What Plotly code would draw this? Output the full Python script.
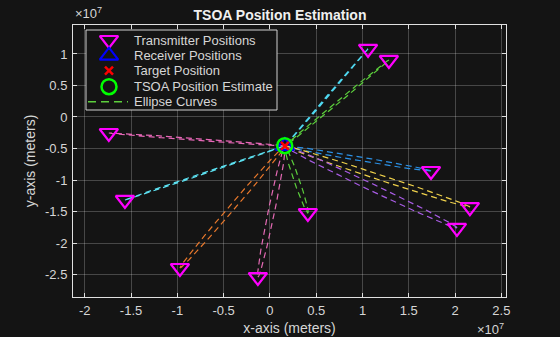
import numpy as np
import plotly.graph_objects as go

# ---- Data (units of meters) ----
tx_x = [1.06e7, 1.285e7, -1.74e7, -1.566e7, -0.972e7, -0.13e7, 0.41e7, 1.74e7, 2.16e7, 2.02e7]
tx_y = [1.08e7, 0.905e7, -0.254e7, -1.317e7, -2.397e7, -2.54e7, -1.524e7, -0.857e7, -1.43e7, -1.76e7]
rx_x = [0.162e7]
rx_y = [-0.46e7]
target_x = [0.162e7]
target_y = [-0.46e7]
est_x = [0.160e7]
est_y = [-0.455e7]
ellipse_colors = ["#4fd8f0", "#5ccf3c", "#e868b8", "#5ce0f0", "#e8782c", "#e46ab4",
                  "#5ccf3c", "#2c90e4", "#f0d24c", "#a85ce4"]
ellipse_minor = [0.008e7, 0.015e7, 0.015e7, 0.01e7, 0.035e7, 0.035e7, 0.03e7, 0.03e7, 0.04e7, 0.05e7]
legend_labels = ["Transmitter Positions", "Receiver Positions", "Target Position",
                 "TSOA Position Estimate", "Ellipse Curves"]

FONT = "Liberation Sans, Arial, sans-serif"
TXT = "#d6d6d6"
TX_COL, RX_COL, TG_COL, EST_COL, ELL_COL = "#ff00ff", "#0000ff", "#ff0000", "#00ff00", "#5ccf3c"

fig = go.Figure()

# Ellipses with foci at each transmitter and the receiver
t = np.linspace(0, 2 * np.pi, 240)
for i in range(len(tx_x)):
    fx1, fy1 = tx_x[i], tx_y[i]
    fx2, fy2 = rx_x[0], rx_y[0]
    cx, cy = (fx1 + fx2) / 2, (fy1 + fy2) / 2
    c = np.hypot(fx1 - fx2, fy1 - fy2) / 2
    b = ellipse_minor[i]
    a = np.sqrt(c ** 2 + b ** 2)
    ang = np.arctan2(fy1 - fy2, fx1 - fx2)
    ex = cx + a * np.cos(t) * np.cos(ang) - b * np.sin(t) * np.sin(ang)
    ey = cy + a * np.cos(t) * np.sin(ang) + b * np.sin(t) * np.cos(ang)
    fig.add_trace(go.Scatter(x=ex, y=ey, mode="lines",
                             line=dict(color=ellipse_colors[i], width=1.2, dash="6px,4px"),
                             showlegend=False, hoverinfo="skip"))

fig.add_trace(go.Scatter(x=tx_x, y=tx_y, mode="markers", name=legend_labels[0],
                         marker=dict(symbol="triangle-down-open", size=16, color=TX_COL,
                                     line=dict(width=2.2, color=TX_COL))))
fig.add_trace(go.Scatter(x=rx_x, y=rx_y, mode="markers", name=legend_labels[1],
                         marker=dict(symbol="triangle-up-open", size=16, color=RX_COL,
                                     line=dict(width=2.2, color=RX_COL))))
fig.add_trace(go.Scatter(x=target_x, y=target_y, mode="markers", name=legend_labels[2],
                         marker=dict(symbol="x-thin-open", size=8, color=TG_COL,
                                     line=dict(width=2.5, color=TG_COL))))
fig.add_trace(go.Scatter(x=est_x, y=est_y, mode="markers", name=legend_labels[3],
                         marker=dict(symbol="circle-open", size=15, color=EST_COL,
                                     line=dict(width=2.5, color=EST_COL))))

# ---- Legend box drawn on an overlay axis measured in pixels from the plot's top-left ----
L, T = 73, 25
PW, PH = 560 - 73 - 54, 337 - 25 - 40
bx0, bx1, by0, by1 = 86 - L, 277 - L, 30 - T, 110 - T
fig.add_trace(go.Scatter(x=[bx0, bx1, bx1, bx0, bx0], y=[by0, by0, by1, by1, by0],
                         xaxis="x2", yaxis="y2", mode="lines", fill="toself",
                         fillcolor="#141414", line=dict(color="#d0d0d0", width=1),
                         showlegend=False, hoverinfo="skip"))
row_y = [40 - T, 55.7 - T, 70.7 - T, 86.7 - T, 101.7 - T]
key_x = 109 - L
legend_marks = [("triangle-down-open", 16, TX_COL, 2.2), ("triangle-up-open", 16, RX_COL, 2.2),
                ("x-thin-open", 8, TG_COL, 2.5), ("circle-open", 15, EST_COL, 2.5)]
for (sym, sz, col, lw), yy in zip(legend_marks, row_y[:4]):
    fig.add_trace(go.Scatter(x=[key_x], y=[yy], xaxis="x2", yaxis="y2", mode="markers",
                             marker=dict(symbol=sym, size=sz, color=col, line=dict(width=lw, color=col)),
                             showlegend=False, hoverinfo="skip"))
fig.add_trace(go.Scatter(x=[88 - L, 128 - L], y=[row_y[4], row_y[4]], xaxis="x2", yaxis="y2",
                         mode="lines", line=dict(color=ELL_COL, width=1.5, dash="8px,5px"),
                         showlegend=False, hoverinfo="skip"))
for lab, yy in zip(legend_labels, row_y):
    fig.add_annotation(text=lab, xref="x2", yref="y2", x=132 - L, y=yy, xanchor="left",
                       yanchor="middle", showarrow=False,
                       font=dict(family=FONT, size=13, color=TXT))

axis_common = dict(showgrid=True, gridcolor="rgba(255,255,255,0.22)", gridwidth=1,
                   zeroline=False, showline=True, linecolor="#e0e0e0", linewidth=1,
                   mirror="ticks", ticks="inside", ticklen=4, tickcolor="#e0e0e0",
                   automargin=False,
                   tickfont=dict(family=FONT, size=13, color=TXT))

fig.update_layout(
    width=560, height=337,
    paper_bgcolor="#141414", plot_bgcolor="#141414",
    margin=dict(l=73, r=54, t=25, b=40),
    showlegend=False,
    title=dict(text="<b>TSOA Position Estimation</b>", x=0.5, xanchor="center", y=0.97, yanchor="top",
               font=dict(family=FONT, size=14, color="#f0f0f0")),
    xaxis=dict(range=[-2.127e7, 2.55e7],
               tickvals=[-2e7, -1.5e7, -1e7, -0.5e7, 0, 0.5e7, 1e7, 1.5e7, 2e7, 2.5e7],
               ticktext=["-2", "-1.5", "-1", "-0.5", "0", "0.5", "1", "1.5", "2", "2.5"],
               ticklabelstandoff=1,
               title=dict(text="x-axis (meters)", standoff=6,
                          font=dict(family=FONT, size=14, color=TXT)),
               **axis_common),
    yaxis=dict(range=[-2.857e7, 1.46e7],
               tickvals=[-2.5e7, -2e7, -1.5e7, -1e7, -0.5e7, 0, 0.5e7, 1e7],
               ticktext=["-2.5", "-2", "-1.5", "-1", "-0.5", "0", "0.5", "1"],
               ticklabelstandoff=2,
               title=dict(text="y-axis (meters)", standoff=6,
                          font=dict(family=FONT, size=14, color=TXT)),
               **axis_common),
    xaxis2=dict(overlaying="x", range=[0, PW], visible=False, showgrid=False, zeroline=False),
    yaxis2=dict(overlaying="y", range=[PH, 0], visible=False, showgrid=False, zeroline=False),
)

fig.add_annotation(text="×10<sup>7</sup>", xref="paper", yref="paper", x=0.0, y=1.0,
                   xanchor="left", yanchor="bottom", showarrow=False, yshift=2,
                   font=dict(family=FONT, size=13, color=TXT))
fig.add_annotation(text="×10<sup>7</sup>", xref="paper", yref="paper", x=1.0, y=0.0,
                   xanchor="right", yanchor="top", showarrow=False, yshift=-22,
                   font=dict(family=FONT, size=13, color=TXT))

fig.write_html("out.html")
